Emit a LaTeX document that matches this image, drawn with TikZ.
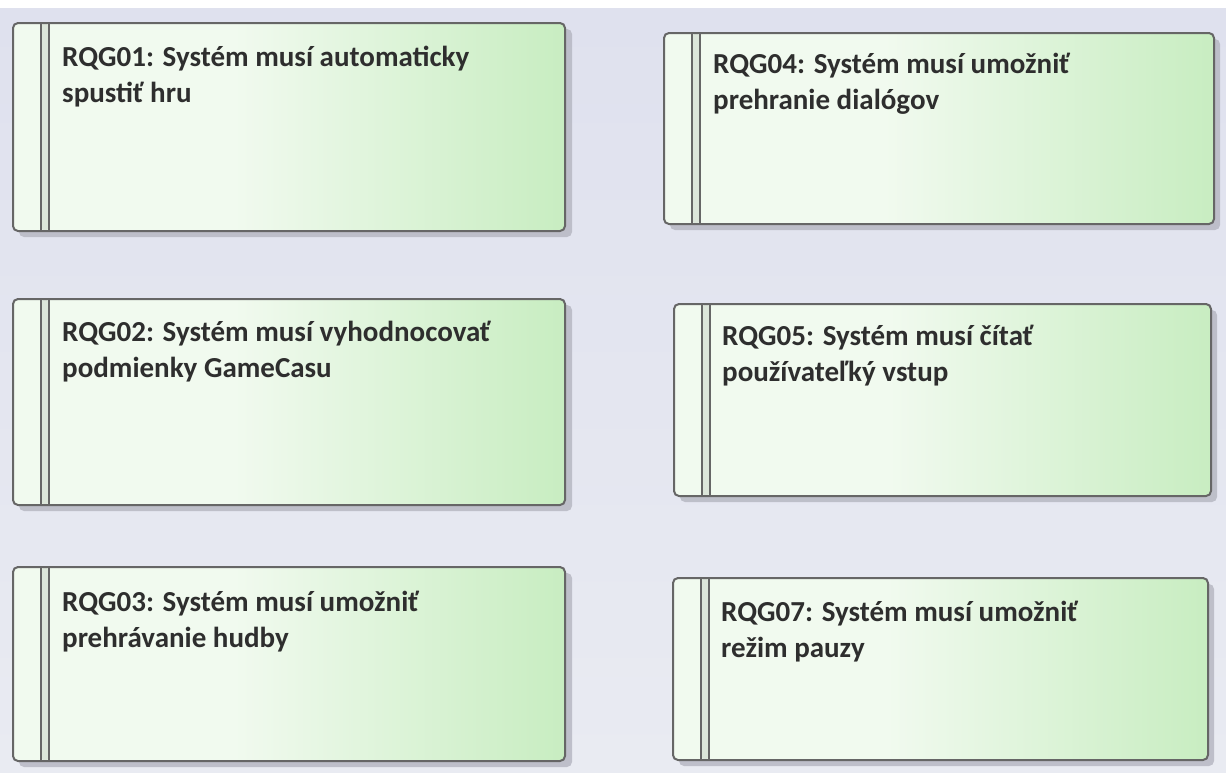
\documentclass[tikz,border=0pt]{standalone}
\usepackage{fontspec}
\setmainfont{Carlito}
\usetikzlibrary{calc}
\definecolor{bgtop}{HTML}{DFE1EE}
\definecolor{bgbot}{HTML}{E9EBF2}
\definecolor{boxleft}{HTML}{F1FAEF}
\definecolor{boxright}{HTML}{C8EDC1}
\definecolor{edge}{HTML}{666666}
\definecolor{barfill}{HTML}{DCE6DA}
\definecolor{shade}{HTML}{B4B5C0}
\definecolor{txt}{HTML}{2E2E2E}
\pgfdeclarehorizontalshading{reqshade}{100bp}{%
  color(0bp)=(boxleft); color(25bp)=(boxleft); color(45bp)=(boxleft); color(60bp)=(boxleft!50!boxright); color(75bp)=(boxright); color(100bp)=(boxright)}
\tikzset{
  reqbox/.style={draw=edge, line width=2pt, rounded corners=5pt, shading=reqshade, anchor=north west, inner sep=0pt,
    path picture={
      \fill[barfill] ($(path picture bounding box.north west)+(28,0)$) rectangle ($(path picture bounding box.south west)+(36,0)$);
      \draw[edge, line width=2pt] ($(path picture bounding box.north west)+(28,0)$) -- ($(path picture bounding box.south west)+(28,0)$);
      \draw[edge, line width=2pt] ($(path picture bounding box.north west)+(36,0)$) -- ($(path picture bounding box.south west)+(36,0)$);
    }},
  reqshadow/.style={fill=shade, rounded corners=5pt, opacity=0.8},
  reqtext/.style={anchor=north west, inner sep=0pt, align=left, text=txt, font=\fontsize{29}{36}\selectfont\bfseries}
}
\newcommand{\firstline}{\rule{0pt}{30pt}}
\begin{document}
\begin{tikzpicture}[x=1pt,y=-1pt]
\useasboundingbox (0,0) rectangle (1226,772);
\shade[top color=bgtop, bottom color=bgbot] (0,8) rectangle (1226,772);
\fill[white] (0,0) rectangle (1226,8);
% shadows
\fill[reqshadow] (19,29) rectangle (572,237);
\fill[reqshadow] (19,305) rectangle (572,511);
\fill[reqshadow] (19,573) rectangle (572,767);
\fill[reqshadow] (670,39) rectangle (1220,230);
\fill[reqshadow] (680,310) rectangle (1217,502);
\fill[reqshadow] (679,584) rectangle (1214,766);
% boxes
\node[reqbox, minimum width=552pt, minimum height=208pt] (r1) at (12,22) {};
\node[reqbox, minimum width=552pt, minimum height=206pt] (r2) at (12,298) {};
\node[reqbox, minimum width=552pt, minimum height=194pt] (r3) at (12,566) {};
\node[reqbox, minimum width=550pt, minimum height=191pt] (r4) at (663,32) {};
\node[reqbox, minimum width=537pt, minimum height=192pt] (r5) at (673,303) {};
\node[reqbox, minimum width=535pt, minimum height=182pt] (r7) at (672,577) {};
% texts (first baseline = north + 30)
\node[reqtext] (t1) at ($(r1.north west)+(50,14.7)$) {\firstline RQG01: Systém musí automaticky\\spustiť hru};
\node[reqtext] (t2) at ($(r2.north west)+(50,13.7)$) {\firstline RQG02: Systém musí vyhodnocovať\\podmienky GameCasu};
\node[reqtext] (t3) at ($(r3.north west)+(50,15.2)$) {\firstline RQG03: Systém musí umožniť\\prehrávanie hudby};
\node[reqtext] (t4) at ($(r4.north west)+(50,11)$) {\firstline RQG04: Systém musí umožniť\\prehranie dialógov};
\node[reqtext] (t5) at ($(r5.north west)+(49,12)$) {\firstline RQG05: Systém musí čítať\\používateľký vstup};
\node[reqtext] (t7) at ($(r7.north west)+(49,14.5)$) {\firstline RQG07: Systém musí umožniť\\režim pauzy};
\end{tikzpicture}
\end{document}
